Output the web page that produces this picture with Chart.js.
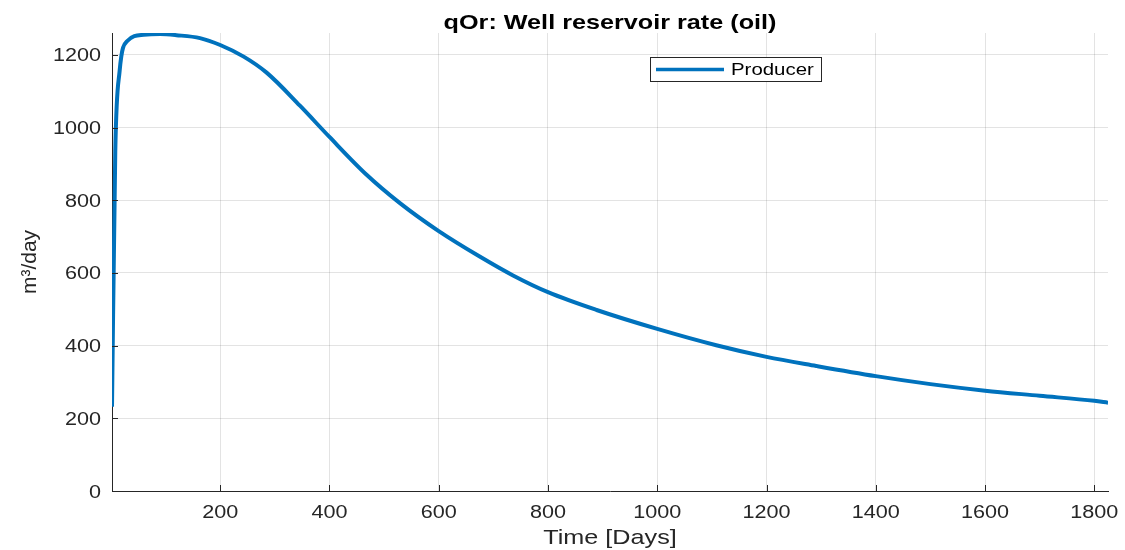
<!DOCTYPE html>
<html>
<head>
<meta charset="utf-8">
<script src="https://cdn.jsdelivr.net/npm/chart.js@4"></script>
<style>
  body { margin: 0; background: #fff; }
</style>
</head>
<body>
<canvas id="rate-chart" width="1125" height="550"></canvas>
<script>
// values
const days = [2, 8, 16, 30, 60, 90, 120, 163, 200, 243, 285, 346, 400, 468, 529, 600, 675, 736, 800, 889, 1000, 1108, 1200, 1291, 1400, 1500, 1600, 1700, 1800, 1825];
const rates = [232, 935, 1156, 1238, 1255, 1257, 1254, 1246, 1227, 1195, 1151, 1060, 974, 870, 792, 715, 645, 593, 547, 498, 446, 401, 369, 344, 316, 294, 276, 262, 248, 243];
const xTicks = [200, 400, 600, 800, 1000, 1200, 1400, 1600, 1800];
const yTicks = [0, 200, 400, 600, 800, 1000, 1200];

const titleText = 'qOr: Well reservoir rate (oil)';
const xTitle = 'Time [Days]';
const yTitle = 'm\u00B3/day';
const seriesName = 'Producer';

const FONT = '"Liberation Sans", Arial, sans-serif';
const AXIS = '#262626';
const SX = 1.2; // the picture is a bit wider than tall, text too

// text with the same horizontal stretch as the reference
function stretchedText(ctx, text, x, y, align) {
    ctx.save();
    ctx.translate(x, y);
    ctx.scale(SX, 1);
    ctx.textAlign = align;
    ctx.textBaseline = 'alphabetic';
    ctx.fillText(text, 0, 0);
    ctx.restore();
}

// title, axis titles, tick labels, inward ticks and the boxed legend (matlab look)
const decor = {
    id: 'decor',
    afterDraw(chart) {
        const ctx = chart.ctx;
        const a = chart.chartArea;
        const xs = chart.scales.x, ys = chart.scales.y;
        ctx.save();

        // inward tick marks
        ctx.strokeStyle = AXIS;
        ctx.lineWidth = 1;
        ctx.beginPath();
        xTicks.forEach(v => {
            const px = Math.round(xs.getPixelForValue(v)) + 0.5;
            ctx.moveTo(px, a.bottom);
            ctx.lineTo(px, a.bottom - 6);
        });
        yTicks.forEach(v => {
            const py = Math.round(ys.getPixelForValue(v)) + 0.5;
            ctx.moveTo(a.left, py);
            ctx.lineTo(a.left + 6, py);
        });
        ctx.stroke();

        // tick labels
        ctx.fillStyle = AXIS;
        ctx.font = '18px ' + FONT;
        xTicks.forEach(v => stretchedText(ctx, String(v), xs.getPixelForValue(v), 518, 'center'));
        yTicks.forEach(v => stretchedText(ctx, String(v), 101, ys.getPixelForValue(v) + 6.5, 'right'));

        // title
        ctx.fillStyle = '#000';
        ctx.font = 'bold 21px ' + FONT;
        stretchedText(ctx, titleText, (a.left + a.right) / 2, 29, 'center');

        // axis titles
        ctx.fillStyle = AXIS;
        ctx.font = '21px ' + FONT;
        stretchedText(ctx, xTitle, (a.left + a.right) / 2, 544, 'center');
        ctx.save();
        ctx.translate(36, 262);
        ctx.rotate(-Math.PI / 2);
        ctx.textAlign = 'center';
        ctx.textBaseline = 'alphabetic';
        ctx.fillText(yTitle, 0, 0);
        ctx.restore();

        // legend box
        const ds = chart.data.datasets[0];
        const bx = 650, by = 57, bw = 171, bh = 24;
        ctx.fillStyle = '#fff';
        ctx.fillRect(bx, by, bw, bh);
        ctx.strokeStyle = '#262626';
        ctx.lineWidth = 1;
        ctx.strokeRect(bx + 0.5, by + 0.5, bw, bh);
        ctx.strokeStyle = ds.borderColor;
        ctx.lineWidth = 3.5;
        ctx.beginPath();
        ctx.moveTo(bx + 6, by + bh / 2 + 0.5);
        ctx.lineTo(bx + 74, by + bh / 2 + 0.5);
        ctx.stroke();
        ctx.fillStyle = '#000';
        ctx.font = '17px ' + FONT;
        stretchedText(ctx, ds.label, bx + 81, by + 18, 'left');

        ctx.restore();
    }
};

const data = {
    datasets: [{
        label: seriesName,
        data: days.map((d, i) => ({ x: d, y: rates[i] })),
        borderColor: '#0072BD',
        borderWidth: 4,
        pointRadius: 0,
        cubicInterpolationMode: 'monotone',
        fill: false,
    }]
};

const config = {
    type: 'line',
    data: data,
    plugins: [decor],
    options: {
        responsive: false,
        animation: false,
        layout: {
            padding: { top: 33, right: 17, left: 0, bottom: 0 }
        },
        scales: {
            x: {
                type: 'linear',
                min: 2,
                max: 1825,
                afterBuildTicks: s => { s.ticks = xTicks.map(v => ({ value: v })); },
                afterFit: s => { s.height = 59; },
                grid: {
                    color: 'rgba(38,38,38,0.13)',
                    drawTicks: false,
                },
                border: { display: true, color: AXIS, width: 1 },
                ticks: { display: false },
            },
            y: {
                min: 0,
                max: 1260,
                afterBuildTicks: s => { s.ticks = yTicks.map(v => ({ value: v })); },
                afterFit: s => { s.width = 112; },
                grid: {
                    color: 'rgba(38,38,38,0.13)',
                    drawTicks: false,
                },
                border: { display: true, color: AXIS, width: 1 },
                ticks: { display: false },
            }
        },
        plugins: {
            legend: { display: false },
            title: { display: false },
            tooltip: { enabled: false },
        }
    }
};

var context = document.getElementById('rate-chart').getContext('2d');
new Chart(context, config);
</script>
</body>
</html>
